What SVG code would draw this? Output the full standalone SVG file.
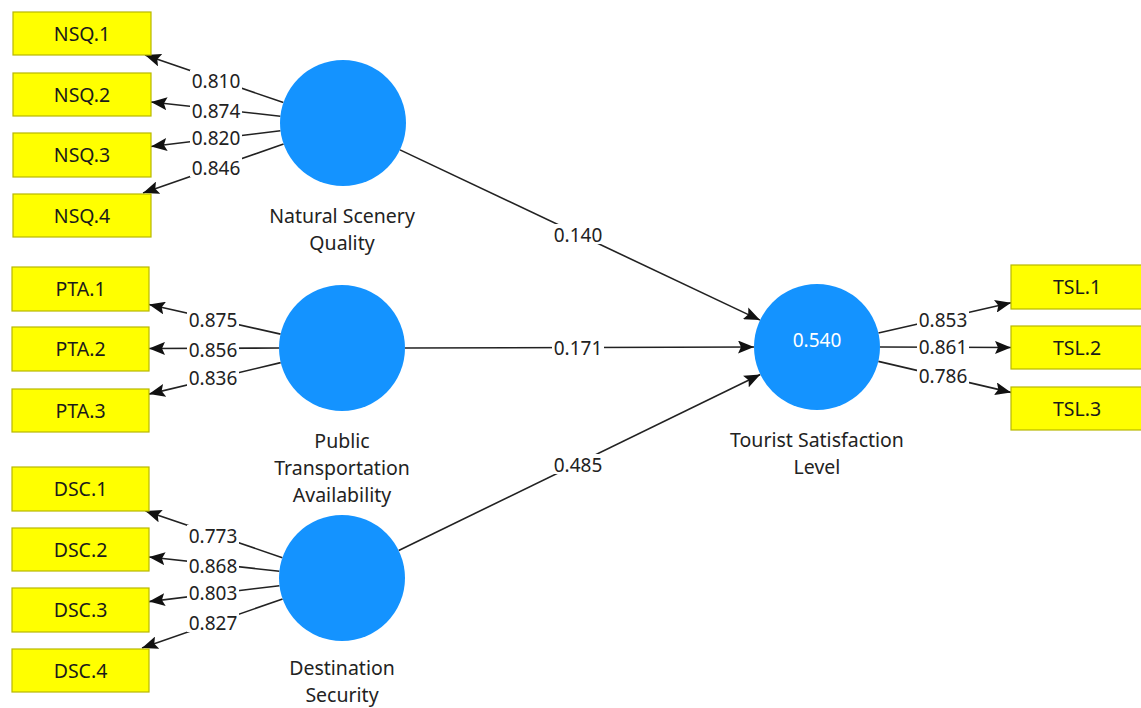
<svg xmlns="http://www.w3.org/2000/svg" width="1141" height="708" viewBox="0 0 1141 708">
<style>
.ind{fill:#ffff00;stroke:#b8b800;stroke-width:1.2}
.it{font-family:"Noto Sans","Open Sans",sans-serif;font-size:19.5px;fill:#1a1a1a;text-anchor:middle}
.lv{fill:#1493ff}
.lt{font-family:"Noto Sans","Open Sans",sans-serif;font-size:19.5px;fill:#222;text-anchor:middle}
.num{font-family:"Noto Sans","Open Sans",sans-serif;font-size:19px;fill:#222;text-anchor:middle}
.bg{fill:#fff}
.cn{stroke:#222;stroke-width:1.6;fill:none;marker-end:url(#ah)}
</style>
<defs>
<marker id="ah" markerUnits="userSpaceOnUse" markerWidth="17" markerHeight="13" viewBox="0 0 17 13" refX="16" refY="6.5" orient="auto">
<path d="M0,0 L16,6.5 L0,13 L3,6.5 z" fill="#111"/>
</marker>
</defs>
<rect width="1141" height="708" fill="#fff"/>
<g id="connectors">
<line class="cn" x1="283.4" y1="102.6" x2="145" y2="55"/>
<line class="cn" x1="280.4" y1="116.2" x2="151" y2="102"/>
<line class="cn" x1="280.5" y1="130.7" x2="151" y2="146.5"/>
<line class="cn" x1="283.6" y1="144" x2="143" y2="193"/>
<line class="cn" x1="280.6" y1="334.1" x2="149" y2="304.5"/>
<line class="cn" x1="279" y1="348" x2="149" y2="348.5"/>
<line class="cn" x1="280.7" y1="362.6" x2="149" y2="394.1"/>
<line class="cn" x1="282.4" y1="557.7" x2="145.5" y2="511"/>
<line class="cn" x1="279.4" y1="571.2" x2="149" y2="557"/>
<line class="cn" x1="279.5" y1="585.7" x2="149" y2="601.6"/>
<line class="cn" x1="282.6" y1="599" x2="142" y2="648"/>
<line class="cn" x1="878.4" y1="333" x2="1011" y2="302.7"/>
<line class="cn" x1="880" y1="347" x2="1011" y2="347.5"/>
<line class="cn" x1="878.3" y1="361.4" x2="1011" y2="392.4"/>
<line class="cn" x1="400" y1="149.9" x2="760" y2="320.1"/>
<line class="cn" x1="405" y1="348" x2="754" y2="347"/>
<line class="cn" x1="398.7" y1="550.5" x2="760.3" y2="374.5"/>
<g id="connector-labels">
<rect class="bg" x="190" y="70" width="52" height="20"/><text class="num" x="216" y="88">0.810</text>
<rect class="bg" x="190" y="101" width="52" height="18"/><text class="num" x="216" y="118">0.874</text>
<rect class="bg" x="190" y="128" width="52" height="18"/><text class="num" x="216" y="145">0.820</text>
<rect class="bg" x="190" y="157" width="52" height="20"/><text class="num" x="216" y="175">0.846</text>
<rect class="bg" x="187" y="309" width="52" height="20"/><text class="num" x="213" y="327">0.875</text>
<rect class="bg" x="187" y="340" width="52" height="18"/><text class="num" x="213" y="357">0.856</text>
<rect class="bg" x="187" y="367" width="52" height="20"/><text class="num" x="213" y="385">0.836</text>
<rect class="bg" x="187" y="525" width="52" height="20"/><text class="num" x="213" y="543">0.773</text>
<rect class="bg" x="187" y="556" width="52" height="18"/><text class="num" x="213" y="573">0.868</text>
<rect class="bg" x="187" y="583" width="52" height="18"/><text class="num" x="213" y="600">0.803</text>
<rect class="bg" x="187" y="612" width="52" height="20"/><text class="num" x="213" y="630">0.827</text>
<rect class="bg" x="917" y="309" width="52" height="20"/><text class="num" x="943" y="327">0.853</text>
<rect class="bg" x="917" y="337" width="52" height="18"/><text class="num" x="943" y="354">0.861</text>
<rect class="bg" x="917" y="365" width="52" height="20"/><text class="num" x="943" y="383">0.786</text>
<rect class="bg" x="552" y="224" width="52" height="20"/><text class="num" x="578" y="242">0.140</text>
<rect class="bg" x="552" y="337" width="52" height="20"/><text class="num" x="578" y="355">0.171</text>
<rect class="bg" x="552" y="454" width="52" height="20"/><text class="num" x="578" y="472">0.485</text>
</g>
</g>
<g id="NSQ1"><rect class="ind" x="13" y="12" width="138" height="43"/><text class="it" x="82" y="40.5">NSQ.1</text></g>
<g id="NSQ2"><rect class="ind" x="13" y="73" width="138" height="43"/><text class="it" x="82" y="101.5">NSQ.2</text></g>
<g id="NSQ3"><rect class="ind" x="13" y="133" width="138" height="44"/><text class="it" x="82" y="162">NSQ.3</text></g>
<g id="NSQ4"><rect class="ind" x="13" y="194" width="138" height="43"/><text class="it" x="82" y="222.5">NSQ.4</text></g>
<g id="PTA1"><rect class="ind" x="12" y="267" width="137" height="44"/><text class="it" x="80.5" y="296">PTA.1</text></g>
<g id="PTA2"><rect class="ind" x="12" y="327" width="137" height="44"/><text class="it" x="80.5" y="356">PTA.2</text></g>
<g id="PTA3"><rect class="ind" x="12" y="389" width="137" height="43"/><text class="it" x="80.5" y="417.5">PTA.3</text></g>
<g id="DSC1"><rect class="ind" x="12" y="467" width="137" height="44"/><text class="it" x="80.5" y="496">DSC.1</text></g>
<g id="DSC2"><rect class="ind" x="12" y="528" width="137" height="43"/><text class="it" x="80.5" y="556.5">DSC.2</text></g>
<g id="DSC3"><rect class="ind" x="12" y="588" width="137" height="44"/><text class="it" x="80.5" y="617">DSC.3</text></g>
<g id="DSC4"><rect class="ind" x="12" y="649" width="137" height="43"/><text class="it" x="80.5" y="677.5">DSC.4</text></g>
<g id="TSL1"><rect class="ind" x="1011" y="265" width="138" height="44"/><text class="it" x="1077" y="294">TSL.1</text></g>
<g id="TSL2"><rect class="ind" x="1011" y="326" width="138" height="43"/><text class="it" x="1077" y="354.5">TSL.2</text></g>
<g id="TSL3"><rect class="ind" x="1011" y="387" width="138" height="43"/><text class="it" x="1077" y="415.5">TSL.3</text></g>
<g id="NSQ"><circle class="lv" cx="343" cy="123" r="63"/><text class="lt" x="342" y="223">Natural Scenery</text><text class="lt" x="342" y="250">Quality</text></g>
<g id="PTA"><circle class="lv" cx="342" cy="348" r="63"/><text class="lt" x="342" y="448">Public</text><text class="lt" x="342" y="475">Transportation</text><text class="lt" x="342" y="502">Availability</text></g>
<g id="DSC"><circle class="lv" cx="342" cy="578" r="63"/><text class="lt" x="342" y="675">Destination</text><text class="lt" x="342" y="702">Security</text></g>
<g id="TSL"><circle class="lv" cx="817" cy="347" r="63"/><text class="lt" x="817" y="347" style="fill:#fff;font-size:19px">0.540</text><text class="lt" x="817" y="447">Tourist Satisfaction</text><text class="lt" x="817" y="474">Level</text></g>
</svg>
